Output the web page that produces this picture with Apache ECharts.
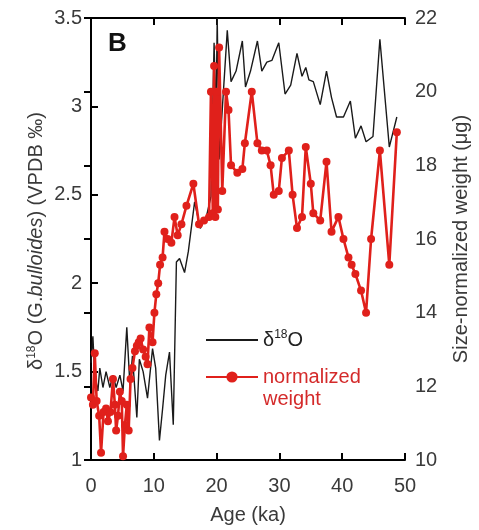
<!DOCTYPE html>
<html>
<head>
<meta charset="utf-8">
<script src="https://cdn.jsdelivr.net/npm/echarts@6/dist/echarts.min.js"></script>
<style>html,body{margin:0;padding:0;background:#fff;}#c{width:479px;height:530px;}</style>
</head>
<body>
<div id="c"></div>
<script>
// Age axis ticks
const ageTicks = [0, 10, 20, 30, 40, 50];
const d18Ticks = [1, 1.5, 2, 2.5, 3, 3.5];
const weightTicks = [10, 12, 14, 16, 18, 20, 22];

// δ18O series (left axis)
const d18Age = [0.0,0.3,0.6,1.1,1.4,1.9,2.4,3.0,3.5,4.0,4.6,5.1,5.7,6.2,6.6,7.3,7.7,8.3,9.0,9.8,10.3,10.9,11.4,11.9,12.5,13.1,13.6,14.1,14.9,15.5,16.5,17.4,18.4,19.1,19.6,19.9,20.1,20.4,21.7,22.3,23.1,24.1,24.6,25.4,26.5,27.2,28.0,28.8,29.9,30.9,31.8,32.8,33.6,34.2,34.7,35.4,36.5,37.5,38.3,39.1,40.2,41.3,42.1,43.0,43.8,44.9,46.0,47.5,48.7];
const d18Val = [1.55,1.70,1.48,1.39,1.52,1.41,1.50,1.41,1.48,1.41,1.48,1.39,1.75,1.42,1.59,1.24,1.57,1.50,1.35,1.63,1.52,1.11,1.29,1.48,1.61,1.20,2.12,2.14,2.06,2.18,2.46,2.31,2.38,2.49,3.36,2.90,3.50,2.70,3.43,3.14,3.20,3.37,3.11,3.20,3.37,3.20,3.25,3.26,3.36,3.07,3.12,3.30,3.17,3.22,3.15,3.14,3.01,3.20,3.05,2.94,2.94,3.03,2.82,2.89,2.80,2.83,3.38,2.77,2.94];

// Size-normalized weight series (right axis)
const wAge = [0.0,0.3,0.6,0.9,1.3,1.6,2.0,2.4,2.7,3.1,3.5,3.8,4.0,4.3,4.6,4.9,5.1,5.4,5.7,6.0,6.3,6.6,7.0,7.3,7.6,7.9,8.3,8.7,9.0,9.3,9.8,10.1,10.4,10.7,11.0,11.4,11.7,12.2,12.8,13.3,13.8,14.4,15.2,16.3,17.2,18.0,18.8,19.1,19.4,19.6,19.8,20.0,20.2,20.4,20.9,21.5,21.9,22.3,23.3,24.1,24.5,25.6,26.5,27.2,28.0,28.6,29.1,29.9,30.4,31.5,32.1,32.8,33.6,34.2,35.0,35.4,36.5,37.5,38.3,39.4,40.2,41.0,41.5,42.1,43.0,43.8,44.6,46.0,47.5,48.7];
const wVal = [11.7,11.5,12.9,11.6,11.2,10.2,11.3,11.4,11.05,11.3,12.2,11.5,10.8,11.2,11.85,11.6,10.1,10.95,11.5,10.8,12.2,12.5,12.95,13.1,13.2,13.3,13.0,12.8,12.6,13.6,13.2,14.0,14.5,14.8,15.3,15.5,16.2,16.0,15.9,16.6,16.1,16.4,16.9,17.5,16.4,16.5,16.6,20.0,16.7,20.7,16.6,20.0,16.8,21.2,17.3,20.0,19.5,18.0,17.8,17.9,18.6,20.0,18.6,18.4,18.4,18.0,17.2,17.3,18.2,18.4,17.2,16.3,16.6,18.5,17.5,16.7,16.5,18.1,16.2,16.6,16.0,15.5,15.3,15.05,14.6,14.0,16.0,18.4,15.3,18.9];

const NAME_D18 = 'δ18O';
const NAME_W = 'normalized weight';

const font = 'Liberation Sans, Arial, sans-serif';
const lblColor = '#3a3a3a';
const red = '#e0201b';
const FS = 20;

const chart = echarts.init(document.getElementById('c'));
chart.setOption({
  animation: false,
  backgroundColor: '#fff',
  textStyle: {fontFamily: font},
  grid: {left: 91, right: 72, top: 18, bottom: 68},
  legend: {
    orient: 'vertical',
    left: 200, top: 324,
    itemWidth: 52, itemHeight: 14, itemGap: -7,
    data: [
      {name: NAME_D18, itemStyle: {opacity: 0}},
      {name: NAME_W, textStyle: {color: '#d42a2a', padding: [22, 0, 0, 0]}}
    ],
    textStyle: {fontSize: FS, fontFamily: font, lineHeight: 22, color: '#222',
      rich: {d: {fontSize: FS, color: '#222'}, s: {fontSize: 12, color: '#222', verticalAlign: 'top', padding: [0, 0, 9, 0]}}},
    formatter: function (n) { return n === NAME_D18 ? '{d|δ}{s|18}{d|O}' : 'normalized\nweight'; }
  },
  graphic: [
    {type: 'text', left: 108, top: 31, style: {text: 'B', font: 'bold 26px ' + font, fill: '#111'}},
    {type: 'text', x: 36, y: 241, rotation: Math.PI / 2,
      style: {
        text: '{a|δ}{s|18}{a|O (G.}{i|bulloides}{a|) (VPDB ‰)}',
        align: 'center', verticalAlign: 'middle',
        rich: {
          a: {fontSize: FS, fontFamily: font, fill: lblColor},
          i: {fontSize: FS, fontFamily: font, fontStyle: 'italic', fill: lblColor},
          s: {fontSize: 12, fontFamily: font, fill: lblColor, verticalAlign: 'top', padding: [0, 0, 9, 0]}
        }
      }}
  ],
  xAxis: [
    {type: 'value', min: ageTicks[0], max: ageTicks[ageTicks.length - 1], interval: 10,
      name: 'Age (ka)', nameLocation: 'middle', nameGap: 45,
      nameTextStyle: {fontSize: FS, color: lblColor, fontFamily: font},
      axisLine: {lineStyle: {color: '#000', width: 2}},
      axisTick: {inside: true, length: 7, lineStyle: {color: '#000', width: 2}},
      axisLabel: {fontSize: FS, color: lblColor, margin: 16, fontFamily: font},
      splitLine: {show: false}},
    {type: 'value', position: 'top', min: 0, max: 50, interval: 10,
      axisLine: {show: true, lineStyle: {color: '#000', width: 2}},
      axisTick: {inside: true, length: 7, lineStyle: {color: '#000', width: 2}},
      axisLabel: {show: false}, splitLine: {show: false}}
  ],
  yAxis: [
    {type: 'value', position: 'left', min: d18Ticks[0], max: d18Ticks[d18Ticks.length - 1], interval: 0.5,
      axisLine: {show: true, lineStyle: {color: '#000', width: 2}},
      axisTick: {show: true, inside: true, length: 7, lineStyle: {color: '#000', width: 2}},
      axisLabel: {fontSize: FS, color: lblColor, margin: 9, fontFamily: font},
      splitLine: {show: false}},
    {type: 'value', position: 'right', min: weightTicks[0], max: weightTicks[weightTicks.length - 1], interval: 2,
      name: 'Size-normalized weight (μg)', nameLocation: 'middle', nameGap: 46, nameRotate: 90,
      nameTextStyle: {fontSize: FS, color: lblColor, fontFamily: font},
      axisLine: {show: true, lineStyle: {color: '#000', width: 2}},
      axisTick: {show: true, inside: true, length: 7, lineStyle: {color: '#000', width: 2}},
      axisLabel: {fontSize: FS, color: lblColor, margin: 10, fontFamily: font},
      splitLine: {show: false}}
  ],
  series: [
    {name: NAME_D18, type: 'line', xAxisIndex: 0, yAxisIndex: 0,
      data: d18Age.map((a, i) => [a, d18Val[i]]),
      showSymbol: false, symbol: 'none',
      lineStyle: {color: '#1a1a1a', width: 1.4}, itemStyle: {color: '#1a1a1a'}},
    {name: NAME_W, type: 'line', xAxisIndex: 0, yAxisIndex: 1,
      data: wAge.map((a, i) => [a, wVal[i]]),
      symbol: 'circle', symbolSize: 8,
      lineStyle: {color: red, width: 2.6}, itemStyle: {color: red}}
  ]
});
</script>
</body>
</html>
